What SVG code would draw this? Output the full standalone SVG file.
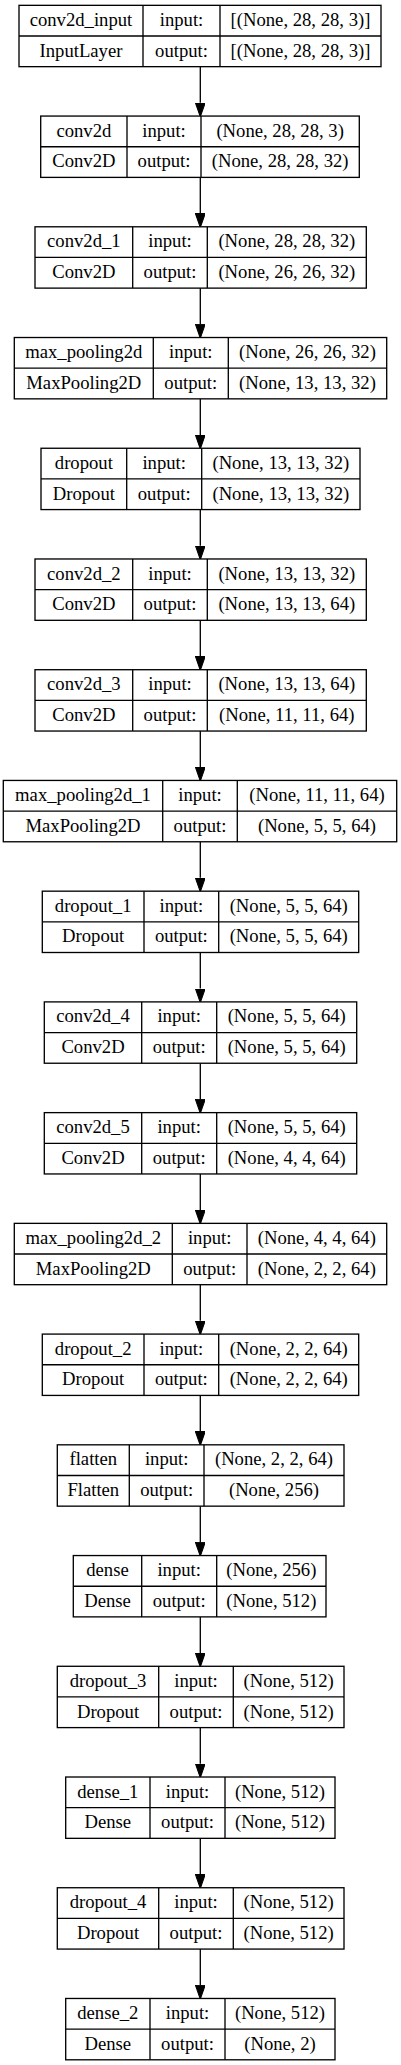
<svg xmlns="http://www.w3.org/2000/svg" width="401" height="2065" viewBox="0 0 401 2065" font-family="'Liberation Serif', 'DejaVu Serif', serif">
<style>
.box{fill:#fff;stroke:#000;stroke-width:1.33}
.ln{stroke:#000;stroke-width:1.33}
.t{font-family:"Liberation Serif","DejaVu Serif",serif;font-size:18.67px;text-anchor:middle;fill:#000}
.e{stroke:#000;stroke-width:1.33;fill:none}
</style>
<defs>
<marker id="ah" markerUnits="userSpaceOnUse" markerWidth="14" markerHeight="10" viewBox="0 0 13.33 9.33" refX="0" refY="4.67" orient="auto">
<path d="M0,0 L13.33,4.67 L0,9.33 z" fill="#000" stroke="#000" stroke-width="1"/>
</marker>
</defs>
<rect width="401" height="2065" fill="#fff"/>
<g id="edges">
<line class="e" x1="200.3" y1="66.66" x2="200.3" y2="102.73" marker-end="url(#ah)"/>
<line class="e" x1="200.3" y1="177.39" x2="200.3" y2="213.46" marker-end="url(#ah)"/>
<line class="e" x1="200.3" y1="288.12" x2="200.3" y2="324.19" marker-end="url(#ah)"/>
<line class="e" x1="200.3" y1="398.85" x2="200.3" y2="434.92" marker-end="url(#ah)"/>
<line class="e" x1="200.3" y1="509.58" x2="200.3" y2="545.65" marker-end="url(#ah)"/>
<line class="e" x1="200.3" y1="620.31" x2="200.3" y2="656.38" marker-end="url(#ah)"/>
<line class="e" x1="200.3" y1="731.04" x2="200.3" y2="767.11" marker-end="url(#ah)"/>
<line class="e" x1="200.3" y1="841.77" x2="200.3" y2="877.84" marker-end="url(#ah)"/>
<line class="e" x1="200.3" y1="952.50" x2="200.3" y2="988.57" marker-end="url(#ah)"/>
<line class="e" x1="200.3" y1="1063.23" x2="200.3" y2="1099.30" marker-end="url(#ah)"/>
<line class="e" x1="200.3" y1="1173.96" x2="200.3" y2="1210.03" marker-end="url(#ah)"/>
<line class="e" x1="200.3" y1="1284.69" x2="200.3" y2="1320.76" marker-end="url(#ah)"/>
<line class="e" x1="200.3" y1="1395.42" x2="200.3" y2="1431.49" marker-end="url(#ah)"/>
<line class="e" x1="200.3" y1="1506.15" x2="200.3" y2="1542.22" marker-end="url(#ah)"/>
<line class="e" x1="200.3" y1="1616.88" x2="200.3" y2="1652.95" marker-end="url(#ah)"/>
<line class="e" x1="200.3" y1="1727.61" x2="200.3" y2="1763.68" marker-end="url(#ah)"/>
<line class="e" x1="200.3" y1="1838.34" x2="200.3" y2="1874.41" marker-end="url(#ah)"/>
<line class="e" x1="200.3" y1="1949.07" x2="200.3" y2="1985.14" marker-end="url(#ah)"/>
</g>

<g id="conv2d_input" transform="translate(0,5.33)">
<rect class="box" x="19" y="0" width="362" height="61.33"/>
<line class="ln" x1="19" y1="30.67" x2="381" y2="30.67"/>
<line class="ln" x1="143" y1="0" x2="143" y2="61.33"/>
<line class="ln" x1="220" y1="0" x2="220" y2="61.33"/>
<text class="t" x="81" y="20.6">conv2d_input</text>
<text class="t" x="81" y="51.3">InputLayer</text>
<text class="t" x="181.5" y="20.6">input:</text>
<text class="t" x="181.5" y="51.3">output:</text>
<text class="t" x="300.5" y="20.6">[(None, 28, 28, 3)]</text>
<text class="t" x="300.5" y="51.3">[(None, 28, 28, 3)]</text>
</g>

<g id="conv2d" transform="translate(0,116.06)">
<rect class="box" x="40.7" y="0" width="318.6" height="61.33"/>
<line class="ln" x1="40.7" y1="30.67" x2="359.3" y2="30.67"/>
<line class="ln" x1="127" y1="0" x2="127" y2="61.33"/>
<line class="ln" x1="201" y1="0" x2="201" y2="61.33"/>
<text class="t" x="83.85" y="20.6">conv2d</text>
<text class="t" x="83.85" y="51.3">Conv2D</text>
<text class="t" x="164" y="20.6">input:</text>
<text class="t" x="164" y="51.3">output:</text>
<text class="t" x="280.15" y="20.6">(None, 28, 28, 3)</text>
<text class="t" x="280.15" y="51.3">(None, 28, 28, 32)</text>
</g>

<g id="conv2d_1" transform="translate(0,226.79)">
<rect class="box" x="35" y="0" width="331.3" height="61.33"/>
<line class="ln" x1="35" y1="30.67" x2="366.3" y2="30.67"/>
<line class="ln" x1="132.7" y1="0" x2="132.7" y2="61.33"/>
<line class="ln" x1="207.3" y1="0" x2="207.3" y2="61.33"/>
<text class="t" x="83.85" y="20.6">conv2d_1</text>
<text class="t" x="83.85" y="51.3">Conv2D</text>
<text class="t" x="170" y="20.6">input:</text>
<text class="t" x="170" y="51.3">output:</text>
<text class="t" x="286.8" y="20.6">(None, 28, 28, 32)</text>
<text class="t" x="286.8" y="51.3">(None, 26, 26, 32)</text>
</g>

<g id="max_pooling2d" transform="translate(0,337.52)">
<rect class="box" x="14.3" y="0" width="372.4" height="61.33"/>
<line class="ln" x1="14.3" y1="30.67" x2="386.7" y2="30.67"/>
<line class="ln" x1="153.3" y1="0" x2="153.3" y2="61.33"/>
<line class="ln" x1="228.3" y1="0" x2="228.3" y2="61.33"/>
<text class="t" x="83.8" y="20.6">max_pooling2d</text>
<text class="t" x="83.8" y="51.3">MaxPooling2D</text>
<text class="t" x="190.8" y="20.6">input:</text>
<text class="t" x="190.8" y="51.3">output:</text>
<text class="t" x="307.5" y="20.6">(None, 26, 26, 32)</text>
<text class="t" x="307.5" y="51.3">(None, 13, 13, 32)</text>
</g>

<g id="dropout" transform="translate(0,448.25)">
<rect class="box" x="41" y="0" width="319" height="61.33"/>
<line class="ln" x1="41" y1="30.67" x2="360" y2="30.67"/>
<line class="ln" x1="126.7" y1="0" x2="126.7" y2="61.33"/>
<line class="ln" x1="201.7" y1="0" x2="201.7" y2="61.33"/>
<text class="t" x="83.85" y="20.6">dropout</text>
<text class="t" x="83.85" y="51.3">Dropout</text>
<text class="t" x="164.2" y="20.6">input:</text>
<text class="t" x="164.2" y="51.3">output:</text>
<text class="t" x="280.85" y="20.6">(None, 13, 13, 32)</text>
<text class="t" x="280.85" y="51.3">(None, 13, 13, 32)</text>
</g>

<g id="conv2d_2" transform="translate(0,558.98)">
<rect class="box" x="35" y="0" width="331.3" height="61.33"/>
<line class="ln" x1="35" y1="30.67" x2="366.3" y2="30.67"/>
<line class="ln" x1="132.7" y1="0" x2="132.7" y2="61.33"/>
<line class="ln" x1="207.3" y1="0" x2="207.3" y2="61.33"/>
<text class="t" x="83.85" y="20.6">conv2d_2</text>
<text class="t" x="83.85" y="51.3">Conv2D</text>
<text class="t" x="170" y="20.6">input:</text>
<text class="t" x="170" y="51.3">output:</text>
<text class="t" x="286.8" y="20.6">(None, 13, 13, 32)</text>
<text class="t" x="286.8" y="51.3">(None, 13, 13, 64)</text>
</g>

<g id="conv2d_3" transform="translate(0,669.71)">
<rect class="box" x="35" y="0" width="331.3" height="61.33"/>
<line class="ln" x1="35" y1="30.67" x2="366.3" y2="30.67"/>
<line class="ln" x1="132.7" y1="0" x2="132.7" y2="61.33"/>
<line class="ln" x1="207.3" y1="0" x2="207.3" y2="61.33"/>
<text class="t" x="83.85" y="20.6">conv2d_3</text>
<text class="t" x="83.85" y="51.3">Conv2D</text>
<text class="t" x="170" y="20.6">input:</text>
<text class="t" x="170" y="51.3">output:</text>
<text class="t" x="286.8" y="20.6">(None, 13, 13, 64)</text>
<text class="t" x="286.8" y="51.3">(None, 11, 11, 64)</text>
</g>

<g id="max_pooling2d_1" transform="translate(0,780.44)">
<rect class="box" x="3.3" y="0" width="393.4" height="61.33"/>
<line class="ln" x1="3.3" y1="30.67" x2="396.7" y2="30.67"/>
<line class="ln" x1="162.7" y1="0" x2="162.7" y2="61.33"/>
<line class="ln" x1="237.3" y1="0" x2="237.3" y2="61.33"/>
<text class="t" x="83" y="20.6">max_pooling2d_1</text>
<text class="t" x="83" y="51.3">MaxPooling2D</text>
<text class="t" x="200" y="20.6">input:</text>
<text class="t" x="200" y="51.3">output:</text>
<text class="t" x="317" y="20.6">(None, 11, 11, 64)</text>
<text class="t" x="317" y="51.3">(None, 5, 5, 64)</text>
</g>

<g id="dropout_1" transform="translate(0,891.17)">
<rect class="box" x="42.3" y="0" width="316.4" height="61.33"/>
<line class="ln" x1="42.3" y1="30.67" x2="358.7" y2="30.67"/>
<line class="ln" x1="144" y1="0" x2="144" y2="61.33"/>
<line class="ln" x1="218.7" y1="0" x2="218.7" y2="61.33"/>
<text class="t" x="93.15" y="20.6">dropout_1</text>
<text class="t" x="93.15" y="51.3">Dropout</text>
<text class="t" x="181.35" y="20.6">input:</text>
<text class="t" x="181.35" y="51.3">output:</text>
<text class="t" x="288.7" y="20.6">(None, 5, 5, 64)</text>
<text class="t" x="288.7" y="51.3">(None, 5, 5, 64)</text>
</g>

<g id="conv2d_4" transform="translate(0,1001.90)">
<rect class="box" x="44.3" y="0" width="312.4" height="61.33"/>
<line class="ln" x1="44.3" y1="30.67" x2="356.7" y2="30.67"/>
<line class="ln" x1="141.7" y1="0" x2="141.7" y2="61.33"/>
<line class="ln" x1="216.7" y1="0" x2="216.7" y2="61.33"/>
<text class="t" x="93" y="20.6">conv2d_4</text>
<text class="t" x="93" y="51.3">Conv2D</text>
<text class="t" x="179.2" y="20.6">input:</text>
<text class="t" x="179.2" y="51.3">output:</text>
<text class="t" x="286.7" y="20.6">(None, 5, 5, 64)</text>
<text class="t" x="286.7" y="51.3">(None, 5, 5, 64)</text>
</g>

<g id="conv2d_5" transform="translate(0,1112.63)">
<rect class="box" x="44.3" y="0" width="312.4" height="61.33"/>
<line class="ln" x1="44.3" y1="30.67" x2="356.7" y2="30.67"/>
<line class="ln" x1="141.7" y1="0" x2="141.7" y2="61.33"/>
<line class="ln" x1="216.7" y1="0" x2="216.7" y2="61.33"/>
<text class="t" x="93" y="20.6">conv2d_5</text>
<text class="t" x="93" y="51.3">Conv2D</text>
<text class="t" x="179.2" y="20.6">input:</text>
<text class="t" x="179.2" y="51.3">output:</text>
<text class="t" x="286.7" y="20.6">(None, 5, 5, 64)</text>
<text class="t" x="286.7" y="51.3">(None, 4, 4, 64)</text>
</g>

<g id="max_pooling2d_2" transform="translate(0,1223.36)">
<rect class="box" x="14.3" y="0" width="372.4" height="61.33"/>
<line class="ln" x1="14.3" y1="30.67" x2="386.7" y2="30.67"/>
<line class="ln" x1="172.3" y1="0" x2="172.3" y2="61.33"/>
<line class="ln" x1="247" y1="0" x2="247" y2="61.33"/>
<text class="t" x="93.3" y="20.6">max_pooling2d_2</text>
<text class="t" x="93.3" y="51.3">MaxPooling2D</text>
<text class="t" x="209.65" y="20.6">input:</text>
<text class="t" x="209.65" y="51.3">output:</text>
<text class="t" x="316.85" y="20.6">(None, 4, 4, 64)</text>
<text class="t" x="316.85" y="51.3">(None, 2, 2, 64)</text>
</g>

<g id="dropout_2" transform="translate(0,1334.09)">
<rect class="box" x="42.3" y="0" width="316.4" height="61.33"/>
<line class="ln" x1="42.3" y1="30.67" x2="358.7" y2="30.67"/>
<line class="ln" x1="144" y1="0" x2="144" y2="61.33"/>
<line class="ln" x1="218.7" y1="0" x2="218.7" y2="61.33"/>
<text class="t" x="93.15" y="20.6">dropout_2</text>
<text class="t" x="93.15" y="51.3">Dropout</text>
<text class="t" x="181.35" y="20.6">input:</text>
<text class="t" x="181.35" y="51.3">output:</text>
<text class="t" x="288.7" y="20.6">(None, 2, 2, 64)</text>
<text class="t" x="288.7" y="51.3">(None, 2, 2, 64)</text>
</g>

<g id="flatten" transform="translate(0,1444.82)">
<rect class="box" x="57.3" y="0" width="286.7" height="61.33"/>
<line class="ln" x1="57.3" y1="30.67" x2="344" y2="30.67"/>
<line class="ln" x1="129.3" y1="0" x2="129.3" y2="61.33"/>
<line class="ln" x1="204" y1="0" x2="204" y2="61.33"/>
<text class="t" x="93.3" y="20.6">flatten</text>
<text class="t" x="93.3" y="51.3">Flatten</text>
<text class="t" x="166.65" y="20.6">input:</text>
<text class="t" x="166.65" y="51.3">output:</text>
<text class="t" x="274" y="20.6">(None, 2, 2, 64)</text>
<text class="t" x="274" y="51.3">(None, 256)</text>
</g>

<g id="dense" transform="translate(0,1555.55)">
<rect class="box" x="73.3" y="0" width="252.7" height="61.33"/>
<line class="ln" x1="73.3" y1="30.67" x2="326" y2="30.67"/>
<line class="ln" x1="141.7" y1="0" x2="141.7" y2="61.33"/>
<line class="ln" x1="216.7" y1="0" x2="216.7" y2="61.33"/>
<text class="t" x="107.5" y="20.6">dense</text>
<text class="t" x="107.5" y="51.3">Dense</text>
<text class="t" x="179.2" y="20.6">input:</text>
<text class="t" x="179.2" y="51.3">output:</text>
<text class="t" x="271.35" y="20.6">(None, 256)</text>
<text class="t" x="271.35" y="51.3">(None, 512)</text>
</g>

<g id="dropout_3" transform="translate(0,1666.28)">
<rect class="box" x="57.3" y="0" width="286.7" height="61.33"/>
<line class="ln" x1="57.3" y1="30.67" x2="344" y2="30.67"/>
<line class="ln" x1="158.7" y1="0" x2="158.7" y2="61.33"/>
<line class="ln" x1="233.3" y1="0" x2="233.3" y2="61.33"/>
<text class="t" x="108" y="20.6">dropout_3</text>
<text class="t" x="108" y="51.3">Dropout</text>
<text class="t" x="196" y="20.6">input:</text>
<text class="t" x="196" y="51.3">output:</text>
<text class="t" x="288.65" y="20.6">(None, 512)</text>
<text class="t" x="288.65" y="51.3">(None, 512)</text>
</g>

<g id="dense_1" transform="translate(0,1777.01)">
<rect class="box" x="65.7" y="0" width="269.3" height="61.33"/>
<line class="ln" x1="65.7" y1="30.67" x2="335" y2="30.67"/>
<line class="ln" x1="150" y1="0" x2="150" y2="61.33"/>
<line class="ln" x1="225" y1="0" x2="225" y2="61.33"/>
<text class="t" x="107.85" y="20.6">dense_1</text>
<text class="t" x="107.85" y="51.3">Dense</text>
<text class="t" x="187.5" y="20.6">input:</text>
<text class="t" x="187.5" y="51.3">output:</text>
<text class="t" x="280" y="20.6">(None, 512)</text>
<text class="t" x="280" y="51.3">(None, 512)</text>
</g>

<g id="dropout_4" transform="translate(0,1887.74)">
<rect class="box" x="57.3" y="0" width="286.7" height="61.33"/>
<line class="ln" x1="57.3" y1="30.67" x2="344" y2="30.67"/>
<line class="ln" x1="158.7" y1="0" x2="158.7" y2="61.33"/>
<line class="ln" x1="233.3" y1="0" x2="233.3" y2="61.33"/>
<text class="t" x="108" y="20.6">dropout_4</text>
<text class="t" x="108" y="51.3">Dropout</text>
<text class="t" x="196" y="20.6">input:</text>
<text class="t" x="196" y="51.3">output:</text>
<text class="t" x="288.65" y="20.6">(None, 512)</text>
<text class="t" x="288.65" y="51.3">(None, 512)</text>
</g>

<g id="dense_2" transform="translate(0,1998.47)">
<rect class="box" x="65.7" y="0" width="269.3" height="61.33"/>
<line class="ln" x1="65.7" y1="30.67" x2="335" y2="30.67"/>
<line class="ln" x1="150" y1="0" x2="150" y2="61.33"/>
<line class="ln" x1="225" y1="0" x2="225" y2="61.33"/>
<text class="t" x="107.85" y="20.6">dense_2</text>
<text class="t" x="107.85" y="51.3">Dense</text>
<text class="t" x="187.5" y="20.6">input:</text>
<text class="t" x="187.5" y="51.3">output:</text>
<text class="t" x="280" y="20.6">(None, 512)</text>
<text class="t" x="280" y="51.3">(None, 2)</text>
</g>
</svg>
